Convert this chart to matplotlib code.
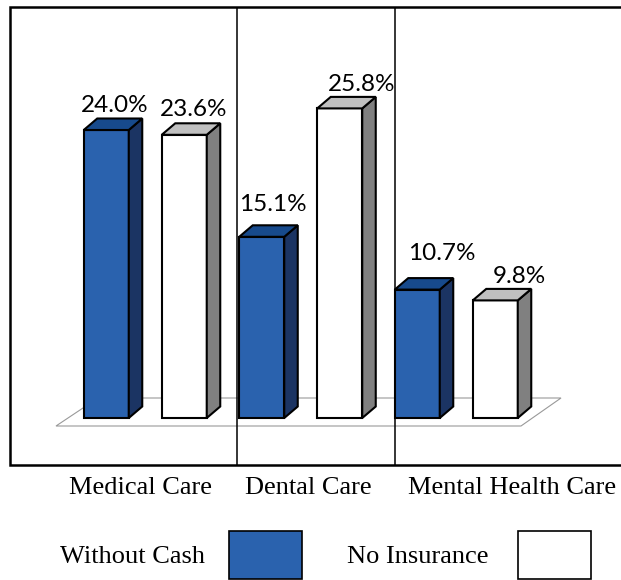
import matplotlib
matplotlib.use("Agg")
import matplotlib.pyplot as plt
from matplotlib.patches import Polygon, Rectangle

# data
categories = ["Medical Care", "Dental Care", "Mental Health Care"]
series = ["Without Cash", "No Insurance"]
without_cash = [24.0, 15.1, 10.7]
no_insurance = [23.6, 25.8, 9.8]

# layout, in pixels of the 621x580 picture
W, H = 621, 580
BASE_PX = 418        # row of the bar bases
PX_PER_PCT = 12.0    # pixels per percentage point
X0_PX = 145.25       # column of the first category centre
GROUP_PX = 155.5     # distance between category centres

bar_shift = 39 / GROUP_PX
bar_w = 45 / GROUP_PX
depth_x = 13.5 / GROUP_PX
depth_y = 11.5 / PX_PER_PCT

colors = [
    dict(front="#2A62AE", side="#1B3463", top="#174A8C"),
    dict(front="#FFFFFF", side="#808080", top="#C0C0C0"),
]
# label offsets (pixels) from the top centre of each bar's front face
label_offsets = [
    [(8, 25), (11.5, 32.5), (24.5, 36)],
    [(9, 25), (21.5, 24), (24.5, 23.5)],
]
cat_offsets = [-4.75, 7.75, 55.75]

fig = plt.figure(figsize=(W / 100, H / 100), dpi=100)

# pixel axes for frame, floor and legend
lay = fig.add_axes([0, 0, 1, 1])
lay.set_xlim(0, W)
lay.set_ylim(H, 0)
lay.axis("off")

# data axes for the bars
ax = fig.add_axes([0, 0, 1, 1])
ax.set_xlim(-X0_PX / GROUP_PX, (W - X0_PX) / GROUP_PX)
ax.set_ylim(-(H - BASE_PX) / PX_PER_PCT, BASE_PX / PX_PER_PCT)
ax.axis("off")
ax.patch.set_visible(False)

# frame and dividers
lay.plot([W + 5, 10, 10, W + 5], [7, 7, 465, 465], color="black", lw=1.8,
         solid_joinstyle="miter")
lay.vlines([237, 395], 7, 465, color="black", lw=1.1)

# floor
lay.add_patch(Polygon([(56, 426), (521, 426), (561, 398), (98, 398)],
                      closed=True, facecolor="none", edgecolor="#999999", lw=0.8))

for s, vals in enumerate([without_cash, no_insurance]):
    c = colors[s]
    for i, v in enumerate(vals):
        x = i + (2 * s - 1) * bar_shift - bar_w / 2
        kw = dict(edgecolor="black", lw=1.5, joinstyle="miter")
        ax.add_patch(Rectangle((x, 0), bar_w, v, facecolor=c["front"], **kw))
        ax.add_patch(Polygon([(x + bar_w, 0), (x + bar_w + depth_x, depth_y),
                              (x + bar_w + depth_x, v + depth_y), (x + bar_w, v)],
                             closed=True, facecolor=c["side"], **kw))
        ax.add_patch(Polygon([(x, v), (x + bar_w, v),
                              (x + bar_w + depth_x, v + depth_y), (x + depth_x, v + depth_y)],
                             closed=True, facecolor=c["top"], **kw))
        dx, dy = label_offsets[s][i]
        ax.annotate(f"{v:.1f}%", (x + bar_w / 2, v), xytext=(dx, dy),
                    textcoords="offset pixels", ha="center", va="center",
                    fontsize=17.5, family="Lato", color="black")

for i, name in enumerate(categories):
    ax.annotate(name, (i, 0), xytext=(cat_offsets[i], -70), textcoords="offset pixels",
                ha="center", va="center", fontsize=19, family="Liberation Serif")

# legend
lay.text(132.5, 557, series[0], ha="center", va="center", fontsize=19,
         family="Liberation Serif")
lay.add_patch(Rectangle((229, 531), 73, 48, facecolor=colors[0]["front"],
                        edgecolor="black", lw=1.2))
lay.text(417.5, 557, series[1], ha="center", va="center", fontsize=19,
         family="Liberation Serif")
lay.add_patch(Rectangle((518, 531), 73, 48, facecolor=colors[1]["front"],
                        edgecolor="black", lw=1.2))

fig.savefig("out.png", dpi=100)
